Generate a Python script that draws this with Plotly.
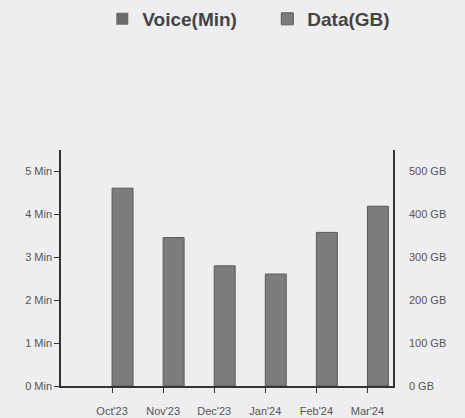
import plotly.graph_objects as go

months = ["Oct'23", "Nov'23", "Dec'23", "Jan'24", "Feb'24", "Mar'24"]
voice_min = [0, 0, 0, 0, 0, 0]
data_gb = [461, 346, 280, 261, 358, 419]

left_ticks = [0, 1, 2, 3, 4, 5]
left_labels = ["0 Min", "1 Min", "2 Min", "3 Min", "4 Min", "5 Min"]
right_ticks = [0, 100, 200, 300, 400, 500]
right_labels = ["0 GB", "100 GB", "200 GB", "300 GB", "400 GB", "500 GB"]

fig = go.Figure()
fig.add_trace(go.Bar(
    x=months, y=voice_min, name="Voice(Min)", yaxis="y",
    width=0.41, offset=-0.41,
    marker=dict(color="#6a6a6a", line=dict(width=0)),
))
fig.add_trace(go.Bar(
    x=months, y=data_gb, name="Data(GB)", yaxis="y2",
    width=0.41, offset=0,
    marker=dict(color="#7c7c7c", line=dict(color="#5a5a5a", width=1)),
))

axis_font = dict(family="Liberation Sans, Arial, sans-serif", size=11, color="#555555")

fig.update_layout(
    width=465, height=418,
    margin=dict(l=61, r=72, t=150, b=32, autoexpand=False),
    paper_bgcolor="#eeeef0",
    plot_bgcolor="#eeeef0",
    barmode="overlay",
    showlegend=True,
    legend=dict(
        orientation="h", xref="container", x=0.22, xanchor="left",
        yref="container", y=1.0, yanchor="top",
        font=dict(family="Liberation Sans, Arial, sans-serif", size=19, color="#444444", weight="bold"),
        itemwidth=30, bgcolor="rgba(0,0,0,0)", entrywidth=120, entrywidthmode="pixels",
    ),
    xaxis=dict(
        range=[-1, 5.5], showgrid=False, zeroline=False, automargin=False,
        showline=True, linecolor="#333333", linewidth=1.5,
        ticks="outside", ticklen=5, tickcolor="#333333",
        tickfont=axis_font, ticklabelstandoff=9,
    ),
    yaxis=dict(
        range=[0, 5.5], showgrid=False, zeroline=False, automargin=False,
        showline=True, linecolor="#333333", linewidth=1.5,
        ticks="outside", ticklen=5, tickcolor="#333333",
        tickvals=left_ticks, ticktext=left_labels, tickfont=axis_font,
    ),
    yaxis2=dict(
        range=[0, 550], overlaying="y", side="right", showgrid=False, zeroline=False,
        automargin=False,
        showline=True, linecolor="#333333", linewidth=1.5,
        ticks="", ticklen=0, tickvals=right_ticks, ticktext=right_labels, tickfont=axis_font,
        ticklabelstandoff=12,
    ),
)

fig.write_html(
    "out.html",
    config={"displayModeBar": False},
    post_script="document.body.style.margin='0';document.body.style.background='#eeeef0';",
)
